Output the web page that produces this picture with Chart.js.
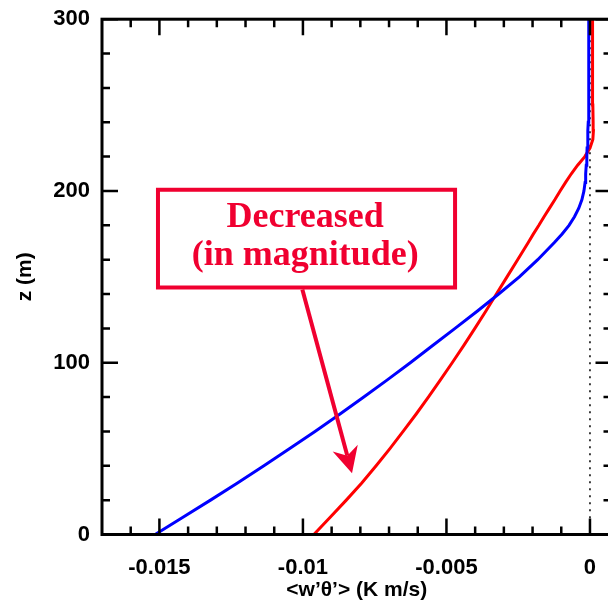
<!DOCTYPE html>
<html><head><meta charset="utf-8">
<script src="https://cdn.jsdelivr.net/npm/chart.js@4/dist/chart.umd.min.js"></script>
<style>html,body{margin:0;padding:0;overflow:hidden;background:#fff}canvas{display:block;margin-top:-6px}</style>
</head><body>
<canvas id="c" width="620" height="609"></canvas>
<script>
// ---- data ----
const zLevels = [0,10,20,30,40,50,60,70,80,90,100,110,120,130,140,150,160,170,175,180,185,190,195,200,205,210,215,220,225,230,235,240,250,260,280,300];
const blueFlux = [-0.01515,-0.01418,-0.01322,-0.01228,-0.01136,-0.01046,-0.00958,-0.00872,-0.00788,-0.00706,-0.00626,-0.00548,-0.0047,-0.00393,-0.00318,-0.00246,-0.00182,-0.00124,-0.00097,-0.00073,-0.00054,-0.00039,-0.00028,-0.00021,-0.00017,-0.00015,-0.00013,-0.00011,-0.0001,-0.00008,-0.00007,-0.00006,-0.00005,-0.00004,-0.00004,-0.00004];
const redFlux = [-0.00962,-0.00905,-0.00849,-0.00795,-0.00745,-0.00697,-0.00651,-0.00606,-0.00563,-0.00521,-0.0048,-0.0044,-0.00401,-0.00363,-0.00326,-0.00289,-0.00252,-0.00215,-0.00197,-0.00178,-0.0016,-0.00141,-0.00122,-0.00104,-0.00085,-0.00065,-0.00043,-0.00018,0.0,0.0001,0.00012,0.00011,0.0001,0.00009,0.00009,0.00009];
const xTickValues = [-0.015,-0.01,-0.005,0];
const xTickLabels = ['-0.015','-0.01','-0.005','0'];
const yTickValues = [0,100,200,300];
const yTickLabels = ['0','100','200','300'];
const xTitle = '<w\u2019\u03B8\u2019> (K m/s)';
const yTitle = 'z (m)';
const noteLines = ['Decreased','(in magnitude)'];

const axisFont = {family:"'Liberation Sans', Arial, Helvetica, sans-serif", size:22, weight:'bold'};
const titleFont = {family:"'Liberation Sans', Arial, Helvetica, sans-serif", size:21, weight:'bold'};
const noteColor = 'rgb(240,0,48)';

const framePlugin = {
  id:'frame',
  beforeDatasetsDraw(chart){
    const {ctx, chartArea:a, scales:{x}} = chart;
    const px = x.getPixelForValue(0);
    ctx.save();
    ctx.strokeStyle='#000'; ctx.lineWidth=1.5; ctx.setLineDash([2,5]);
    ctx.beginPath(); ctx.moveTo(px,a.top); ctx.lineTo(px,a.bottom); ctx.stroke();
    ctx.restore();
  },
  afterDatasetsDraw(chart){
    const {ctx, chartArea:a, scales:{x,y}} = chart;
    ctx.save();
    ctx.strokeStyle='#000'; ctx.lineWidth=3; ctx.setLineDash([]);
    ctx.strokeRect(a.left,a.top,a.right-a.left,a.bottom-a.top);
    ctx.lineWidth=2.5;
    ctx.beginPath();
    for(let i=-16;i<=0;i++){
      const p=x.getPixelForValue(i/1000); const L=(i%5===0)?16:8;
      ctx.moveTo(p,a.bottom); ctx.lineTo(p,a.bottom-L);
      ctx.moveTo(p,a.top); ctx.lineTo(p,a.top+L);
    }
    for(let v=0;v<=300;v+=20){
      const p=y.getPixelForValue(v); const L=(v%100===0)?16:8;
      ctx.moveTo(a.left,p); ctx.lineTo(a.left+L,p);
      ctx.moveTo(a.right,p); ctx.lineTo(a.right-L,p);
    }
    ctx.stroke();
    // annotation box
    const bx0=x.getPixelForValue(-0.01505), bx1=x.getPixelForValue(-0.0047);
    const by0=y.getPixelForValue(200.7), by1=y.getPixelForValue(143.8);
    ctx.strokeStyle=noteColor; ctx.lineWidth=4;
    ctx.strokeRect(bx0,by0,bx1-bx0,by1-by0);
    ctx.fillStyle=noteColor;
    ctx.font="bold 36px 'Liberation Serif', 'Times New Roman', serif";
    ctx.textAlign='center'; ctx.textBaseline='alphabetic';
    const cx=x.getPixelForValue(-0.00992);
    ctx.fillText(noteLines[0],cx,by0+37);
    ctx.fillText(noteLines[1],cx,by0+75);
    // arrow
    const sx=x.getPixelForValue(-0.01002), sy=y.getPixelForValue(142.6);
    const tx=x.getPixelForValue(-0.00829), ty=y.getPixelForValue(35.7);
    const dx=tx-sx, dy=ty-sy, len=Math.hypot(dx,dy), ux=dx/len, uy=dy/len, nx=-uy, ny=ux;
    const hl=26, hw=13, notch=18;
    ctx.lineWidth=4;
    ctx.beginPath(); ctx.moveTo(sx,sy); ctx.lineTo(tx-ux*notch,ty-uy*notch); ctx.stroke();
    ctx.beginPath();
    ctx.moveTo(tx,ty);
    ctx.lineTo(tx-ux*hl+nx*hw, ty-uy*hl+ny*hw);
    ctx.lineTo(tx-ux*notch, ty-uy*notch);
    ctx.lineTo(tx-ux*hl-nx*hw, ty-uy*hl-ny*hw);
    ctx.closePath(); ctx.fill();
    ctx.restore();
  }
};

new Chart(document.getElementById('c'), {
  type:'scatter',
  data:{datasets:[
    {label:'blue', data:zLevels.map((z,i)=>({x:blueFlux[i],y:z})), showLine:true, borderColor:'#0000ff', borderWidth:3, pointRadius:0, tension:0, fill:false},
    {label:'red', data:zLevels.map((z,i)=>({x:redFlux[i],y:z})), showLine:true, borderColor:'#ff0000', borderWidth:3, pointRadius:0, tension:0, fill:false}
  ]},
  options:{
    responsive:false, animation:false, devicePixelRatio:1,
    layout:{padding:{top:13,right:8.5,left:0,bottom:0}},
    plugins:{legend:{display:false}, tooltip:{enabled:false}},
    scales:{
      x:{type:'linear', min:-0.017, max:0.00075,
        grid:{display:false, drawTicks:false}, border:{display:false},
        afterBuildTicks:s=>{s.ticks=xTickValues.map(v=>({value:v}));},
        ticks:{autoSkip:false, maxRotation:0, color:'#000', font:axisFont, padding:20,
          callback:(v)=>{const i=xTickValues.indexOf(v); return i>=0?xTickLabels[i]:'';}},
        title:{display:true, text:xTitle, color:'#000', font:titleFont, padding:{top:0,bottom:0}},
        afterFit:s=>{s.height=68.5;}
      },
      y:{type:'linear', min:0, max:300,
        grid:{display:false, drawTicks:false}, border:{display:false},
        afterBuildTicks:s=>{s.ticks=yTickValues.map(v=>({value:v}));},
        ticks:{autoSkip:false, color:'#000', font:axisFont, padding:12,
          callback:(v)=>{const i=yTickValues.indexOf(v); return i>=0?yTickLabels[i]:'';}},
        title:{display:true, text:yTitle, color:'#000', font:titleFont, padding:{top:13,bottom:0}},
        afterFit:s=>{s.width=102;}
      }
    }
  },
  plugins:[framePlugin]
});
</script>
</body></html>
